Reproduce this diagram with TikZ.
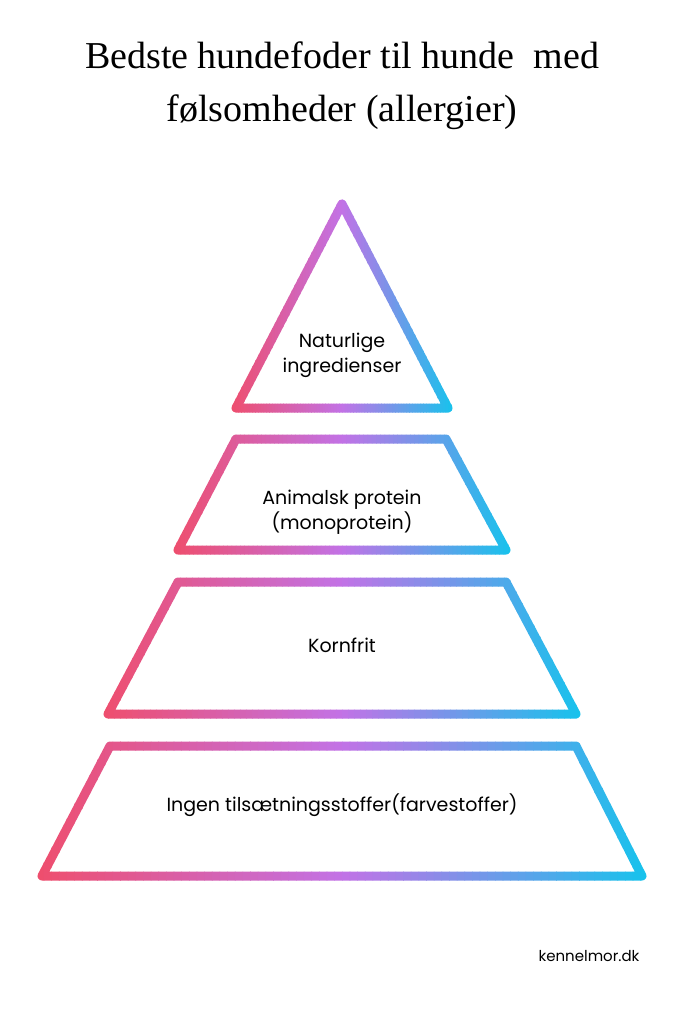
\documentclass[tikz,border=0pt]{standalone}
\usepackage{fontspec}
\setmainfont{Liberation Serif}
\newfontfamily\lblfont{Poppins}
\definecolor{cp}{HTML}{EE4E6E}
\definecolor{cv}{HTML}{C272E6}
\definecolor{cc}{HTML}{18C2EC}
\newcommand\gradshape[3]{%
\foreach \i in {0,...,79}{%
 \pgfmathsetmacro\t{\i/79}%
 \pgfmathsetmacro\pa{max(0,min(100,200*\t))}%
 \pgfmathsetmacro\pb{max(0,min(100,200*\t-100))}%
 \colorlet{tmpc}{cv!\pa!cp}\colorlet{gc}{cc!\pb!tmpc}%
 \pgfmathsetmacro\sw{(#2-#1+12)/80}%
 \pgfmathsetmacro\xa{#1-6+\sw*\i}%
 \pgfmathsetmacro\xb{#1-6+\sw*(\i+1)+0.6}%
 \begin{scope}\clip (\xa,0) rectangle (\xb,1024);
 \draw[line width=9pt,line join=round,line cap=round,gc] #3;
 \end{scope}}}
\tikzset{lbl/.style={font=\lblfont\fontsize{19}{25}\selectfont,align=center,text=black}}
\begin{document}
\begin{tikzpicture}[x=1pt,y=-1pt]
\fill[white] (0,0) rectangle (683,1024);
\useasboundingbox (0,0) rectangle (683,1024);
\node[font=\fontsize{38}{53}\selectfont,align=center] (title) at (342,86) {Bedste hundefoder til hunde\ \ med\\følsomheder (allergier)};
\gradshape{236}{448}{(342,204) -- (448,408) -- (236,408) -- cycle}
\gradshape{178}{506}{(236,439) -- (446,439) -- (506,550) -- (178,550) -- cycle}
\gradshape{108}{576}{(178,582) -- (506,582) -- (576,714) -- (108,714) -- cycle}
\gradshape{42}{642}{(110,746) -- (576,746) -- (642,876) -- (42,876) -- cycle}
\node[lbl] (n1) at (342,355) {Naturlige\\ingredienser};
\node[lbl] (n2) at (342,512) {Animalsk protein\\(monoprotein)};
\node[lbl] (n3) at (342,645) {Kornfrit};
\node[lbl] (n4) at (342,805) {Ingen tilsætningsstoffer(farvestoffer)};
\node[font=\lblfont\fontsize{15}{18}\selectfont] (brand) at (589,956) {kennelmor.dk};
\end{tikzpicture}
\end{document}
